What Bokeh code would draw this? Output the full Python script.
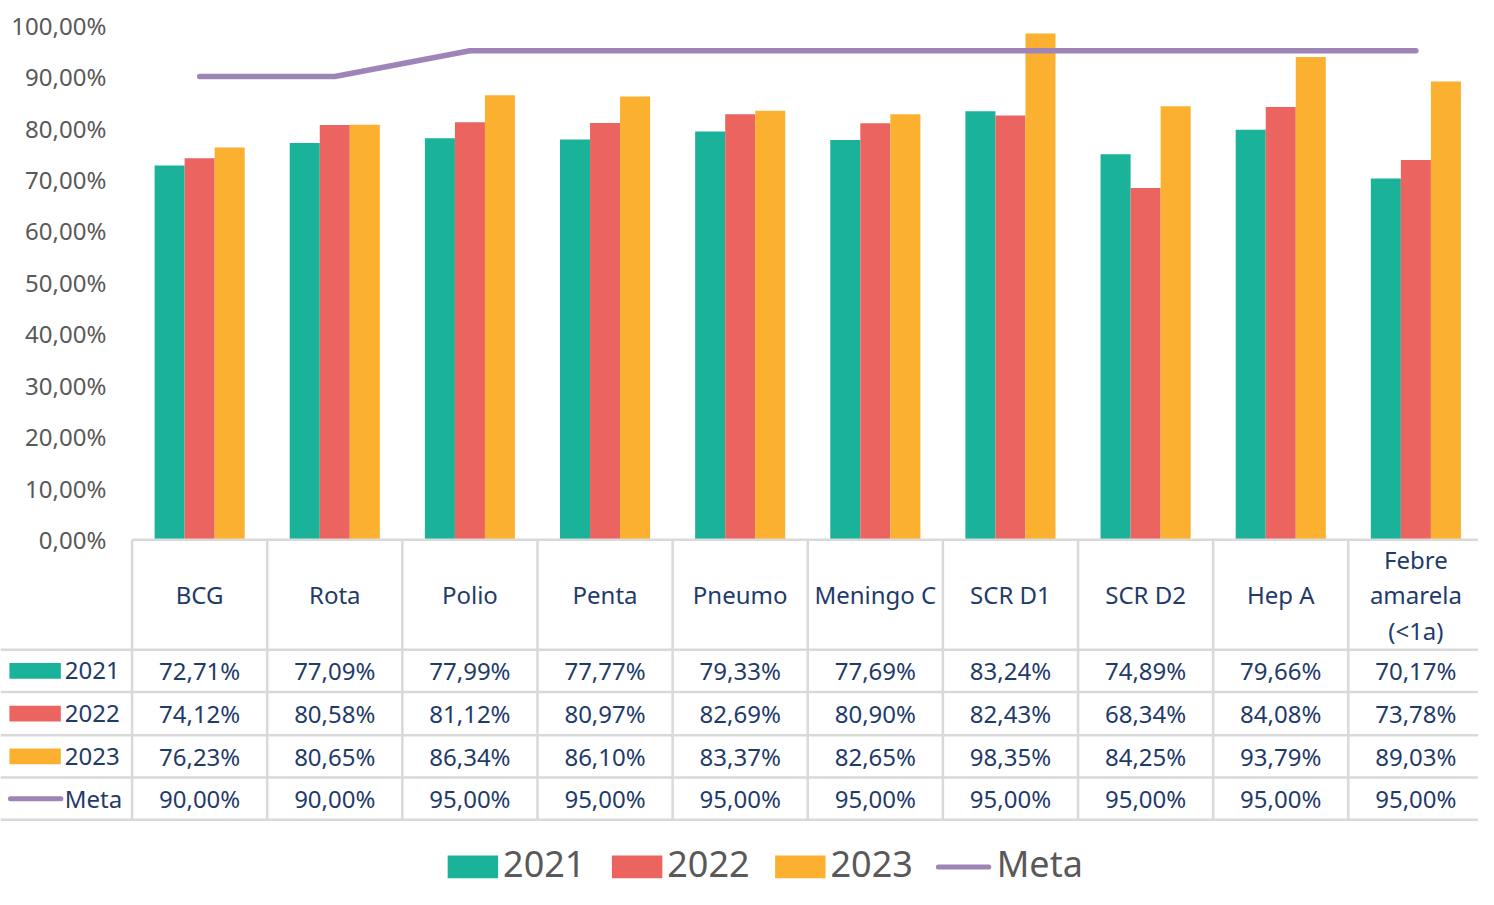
from bokeh.plotting import figure
from bokeh.models import Range1d, ColumnDataSource
from bokeh.core.properties import value
from bokeh.embed import file_html
from bokeh.resources import INLINE

# ---------------- data ----------------
categories = ["BCG", "Rota", "Polio", "Penta", "Pneumo", "Meningo C",
              "SCR D1", "SCR D2", "Hep A", "Febre\namarela\n(<1a)"]
v2021 = [72.71, 77.09, 77.99, 77.77, 79.33, 77.69, 83.24, 74.89, 79.66, 70.17]
v2022 = [74.12, 80.58, 81.12, 80.97, 82.69, 80.90, 82.43, 68.34, 84.08, 73.78]
v2023 = [76.23, 80.65, 86.34, 86.10, 83.37, 82.65, 98.35, 84.25, 93.79, 89.03]
meta = [90.0, 90.0, 95.0, 95.0, 95.0, 95.0, 95.0, 95.0, 95.0, 95.0]
series_names = ["2021", "2022", "2023", "Meta"]
y_ticks = [0, 10, 20, 30, 40, 50, 60, 70, 80, 90, 100]

# ---------------- style ----------------
C_BARS = ["#1BB29A", "#EC6460", "#FBB030"]
C_META = "#9E85B8"
C_GRID = "#D9D9D9"
C_AXIS_TXT = "#595959"
C_TABLE_TXT = "#1F3B6A"
FONT = value("Noto Sans")

W, H = 1478, 889
PXY = 5.24          # layout: px per y-unit
PXX = 136.6         # layout: px per category column
X0_PX, Y0_PX = 133, 549   # layout: origin of the plot area

def py(px):
    return (Y0_PX - px) / PXY

def px_(px):
    return (px - X0_PX) / PXX

X_LEFT, X_RIGHT = px_(0), px_(1494)
Y_TOP, Y_BOT = py(0), py(905)

def fmt(v):
    return f"{v:.2f}".replace(".", ",") + "%"

n = len(categories)
xc = [i + 0.5 for i in range(n)]
bw = 1 / 4.5

p = figure(width=W, height=H, output_backend="svg", toolbar_location=None,
           x_range=Range1d(X_LEFT, X_RIGHT), y_range=Range1d(Y_BOT, Y_TOP),
           x_axis_location=None, y_axis_location=None, min_border=0,
           outline_line_color=None, background_fill_color="white",
           border_fill_color="white")
p.grid.visible = False

# bars
for k, vals in enumerate([v2021, v2022, v2023]):
    src = ColumnDataSource(dict(x=[x + (k - 1) * bw for x in xc], top=vals))
    p.vbar(x="x", top="top", width=bw, bottom=0, source=src,
           fill_color=C_BARS[k], line_color=None)

# meta line
p.line(xc, meta, line_color=C_META, line_width=5.5, line_cap="round",
       line_join="round")

# y tick labels
p.text(x=[px_(107)] * len(y_ticks), y=y_ticks, text=[fmt(t) for t in y_ticks],
       text_align="right", text_baseline="middle", text_font=FONT,
       text_font_size="24px", text_color=C_AXIS_TXT)

# ---------------- data table ----------------
row_lines_px = [661, 704, 748, 791, 834]
y_rows = [py(v) for v in row_lines_px]
y_hdr = y_rows[0]
y_bottom = y_rows[-1]

p.segment(x0=[0], y0=[0], x1=[n + 1], y1=[0], line_color=C_GRID, line_width=2.5)
p.segment(x0=[X_LEFT] * len(y_rows), y0=y_rows, x1=[n + 1] * len(y_rows), y1=y_rows,
          line_color=C_GRID, line_width=2.5)
p.segment(x0=list(range(n + 1)), y0=[0] * (n + 1), x1=list(range(n + 1)),
          y1=[y_bottom] * (n + 1), line_color=C_GRID, line_width=2.5)

p.text(x=xc, y=[y_hdr / 2] * n, text=categories, text_align="center",
       text_baseline="middle", text_font=FONT, text_font_size="24px",
       text_color=C_TABLE_TXT, text_line_height=1.07)

row_centers = [(y_rows[i] + y_rows[i + 1]) / 2 for i in range(4)]
for r_i, vals in enumerate([v2021, v2022, v2023, meta]):
    p.text(x=xc, y=[row_centers[r_i]] * n, text=[fmt(v) for v in vals],
           text_align="center", text_baseline="middle", text_font=FONT,
           text_font_size="24px", text_color=C_TABLE_TXT)

sw_h = 16 / PXY
for r_i in range(3):
    p.rect(x=[px_(35)], y=[row_centers[r_i]], width=52 / PXX, height=sw_h,
           fill_color=C_BARS[r_i], line_color=None)
p.segment(x0=[px_(10)], y0=[row_centers[3]], x1=[px_(61)], y1=[row_centers[3]],
          line_color=C_META, line_width=5, line_cap="round")
p.text(x=[px_(65)] * 4, y=row_centers, text=series_names, text_align="left",
       text_baseline="middle", text_font=FONT, text_font_size="24px",
       text_color=C_TABLE_TXT)

# ---------------- legend ----------------
leg_y = py(879)
sw_y = py(882)
sw_left = [452, 618, 783]
for k in range(3):
    p.rect(x=[px_(sw_left[k] + 25.5)], y=[sw_y], width=51 / PXX, height=23 / PXY,
           fill_color=C_BARS[k], line_color=None)
p.segment(x0=[px_(948)], y0=[sw_y], x1=[px_(999)], y1=[sw_y],
          line_color=C_META, line_width=5, line_cap="round")
p.text(x=[px_(v) for v in [508, 674, 839, 1007]], y=[leg_y] * 4, text=series_names,
       text_align="left", text_baseline="middle", text_font=FONT,
       text_font_size="36px", text_color=C_AXIS_TXT)

open("out.html", "w").write(file_html(p, INLINE))
